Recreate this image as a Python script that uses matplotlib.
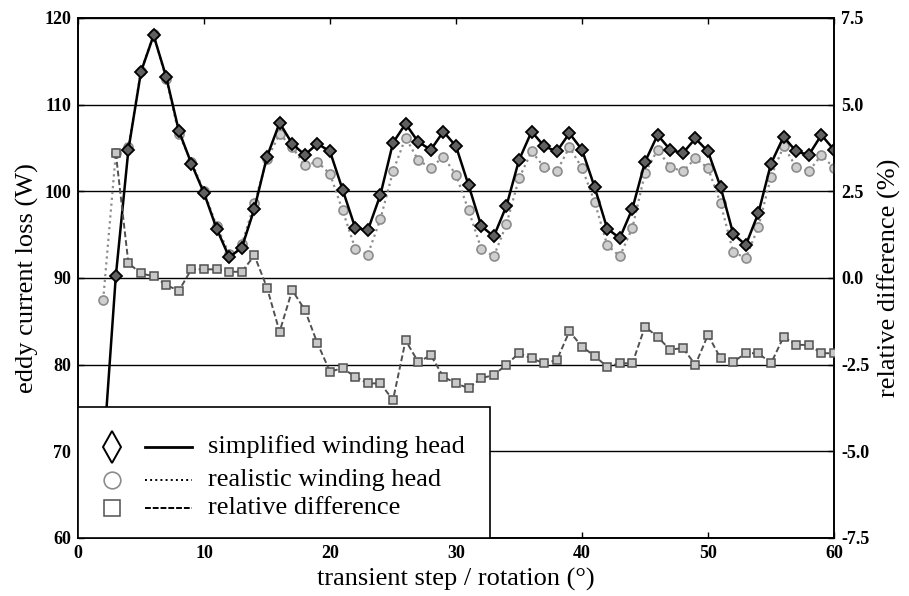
#!/usr/bin/env python
# -*- coding: utf-8 -*-

import matplotlib
matplotlib.use("Agg")
import matplotlib.pyplot as plt
from matplotlib.patches import Rectangle

# transient steps (rotation in degree)
steps = list(range(2, 61))

# eddy current loss (W), simplified winding head, steps 2..60
simplified = [69.5, 90.2, 104.8, 113.8, 118.0, 113.2, 107.0, 103.2, 99.8, 95.7,
              92.4, 93.5, 98.0, 104.0, 107.9, 105.5, 104.2, 105.5, 104.6, 100.2,
              95.8, 95.5, 99.6, 105.6, 107.8, 105.7, 104.8, 106.9, 105.2, 100.7,
              96.0, 94.8, 98.3, 103.6, 106.9, 105.2, 104.6, 106.7, 104.8, 100.5,
              95.7, 94.6, 98.0, 103.4, 106.5, 104.8, 104.4, 106.1, 104.6, 100.5,
              95.1, 93.8, 97.5, 103.2, 106.3, 104.6, 104.2, 106.5, 104.8]

# eddy current loss (W), realistic winding head, steps 2..60
realistic = [87.5, 104.4, 105.1, 113.9, 118.1, 113.0, 106.6, 103.4, 100.0, 96.0,
             92.8, 93.9, 98.6, 103.7, 106.6, 105.1, 103.0, 103.4, 102.0, 97.8,
             93.4, 92.7, 96.8, 102.3, 106.2, 103.6, 102.7, 104.0, 101.9, 97.8,
             93.4, 92.5, 96.2, 101.5, 104.6, 102.8, 102.3, 105.1, 102.7, 98.8,
             93.8, 92.5, 95.8, 102.1, 104.8, 102.8, 102.3, 103.8, 102.7, 98.6,
             93.0, 92.3, 95.9, 101.7, 105.2, 102.8, 102.3, 104.2, 102.7]

# relative difference (%), steps 3..60
diff_steps = list(range(3, 61))
rel_diff = [3.6, 0.43, 0.13, 0.05, -0.2, -0.37, 0.25, 0.25, 0.25, 0.18,
            0.18, 0.65, -0.28, -1.55, -0.35, -0.92, -1.88, -2.7, -2.6, -2.85,
            -3.04, -3.04, -3.52, -1.8, -2.42, -2.23, -2.85, -3.04, -3.18, -2.89,
            -2.8, -2.5, -2.17, -2.32, -2.46, -2.37, -1.54, -1.98, -2.25, -2.56,
            -2.46, -2.46, -1.4, -1.7, -2.07, -2.02, -2.5, -1.64, -2.32, -2.42,
            -2.17, -2.17, -2.46, -1.7, -1.93, -1.93, -2.17, -2.17]

labels = ["simplified winding head", "realistic winding head", "relative difference"]

plt.rcParams['font.family'] = ['Liberation Serif', 'DejaVu Serif']
plt.rcParams['axes.unicode_minus'] = False

fig = plt.figure(figsize=(9.09, 5.96), dpi=100)
ax = fig.add_axes([78 / 909, 58 / 596, 756 / 909, 520 / 596])
ax2 = ax.twinx()

gray = '#8c8c8c'
dark = '#505050'

ax.plot(steps, realistic, ls=':', lw=1.6, color=gray, marker='o', ms=6.5,
        mfc='#cfcfcf', mec=gray, mew=1.2, zorder=3)
ax.plot(steps, simplified, ls='-', lw=1.8, color='black', marker='D', ms=6,
        mfc='#606060', mec='black', mew=1.3, zorder=4)
ax2.plot(diff_steps, rel_diff, ls=(0, (3, 1.5)), lw=1.4, color=dark, marker='s', ms=6,
         mfc='#c8c8c8', mec=dark, mew=1.1, zorder=3)

ax.set_xlim(0, 60)
ax.set_ylim(60, 120)
ax2.set_ylim(-7.5, 7.5)
ax.set_xticks(range(0, 61, 10))
ax.set_yticks(range(60, 121, 10))
ax2.set_yticks([-7.5, -5.0, -2.5, 0.0, 2.5, 5.0, 7.5])
ax2.set_yticklabels(["%.1f" % v for v in [-7.5, -5.0, -2.5, 0.0, 2.5, 5.0, 7.5]])

ax.yaxis.grid(True, color='black', lw=1.0)
ax.set_axisbelow(True)

for a in (ax, ax2):
    for s in a.spines.values():
        s.set_linewidth(1.2)
ax.tick_params(direction='in', top=True, length=4, width=1, labelsize=13, pad=5)
ax2.tick_params(direction='in', length=4, width=1, labelsize=13, pad=5)
for t in ax.get_xticklabels() + ax.get_yticklabels() + ax2.get_yticklabels():
    t.set_fontweight('bold')

ax.set_xlabel("transient step / rotation (°)", fontsize=19, labelpad=4)
ax.set_ylabel("eddy current loss (W)", fontsize=19, labelpad=4)
ax2.set_ylabel("relative difference (%)", fontsize=19, labelpad=6)

# legend box drawn in the lower left corner, marker - line - text
tr = ax2.transAxes
ax2.add_patch(Rectangle((0, 0), 0.545, 0.252, transform=tr, facecolor='white',
                        edgecolor='black', lw=1.2, zorder=10))
rows = [0.175, 0.112, 0.058]
ax2.plot([0.045], [rows[0]], transform=tr, marker='d', ms=16, mfc='white',
         mec='black', mew=1.4, zorder=11, clip_on=False)
ax2.plot([0.045], [rows[1]], transform=tr, marker='o', ms=12, mfc='white',
         mec=gray, mew=1.2, zorder=11, clip_on=False)
ax2.plot([0.045], [rows[2]], transform=tr, marker='s', ms=11, mfc='white',
         mec=dark, mew=1.1, zorder=11, clip_on=False)
ax2.plot([0.089, 0.151], [rows[0], rows[0]], transform=tr, color='black', lw=2, zorder=11)
ax2.plot([0.089, 0.151], [rows[1], rows[1]], transform=tr, color='black', lw=1.4, ls=':', zorder=11)
ax2.plot([0.089, 0.151], [rows[2], rows[2]], transform=tr, color='black', lw=1.4,
         ls=(0, (3, 1)), zorder=11)
for r, lab in zip(rows, labels):
    ax2.text(0.172, r, lab, transform=tr, fontsize=19, va='center', ha='left', zorder=12)

fig.savefig("out.png", dpi=100)
